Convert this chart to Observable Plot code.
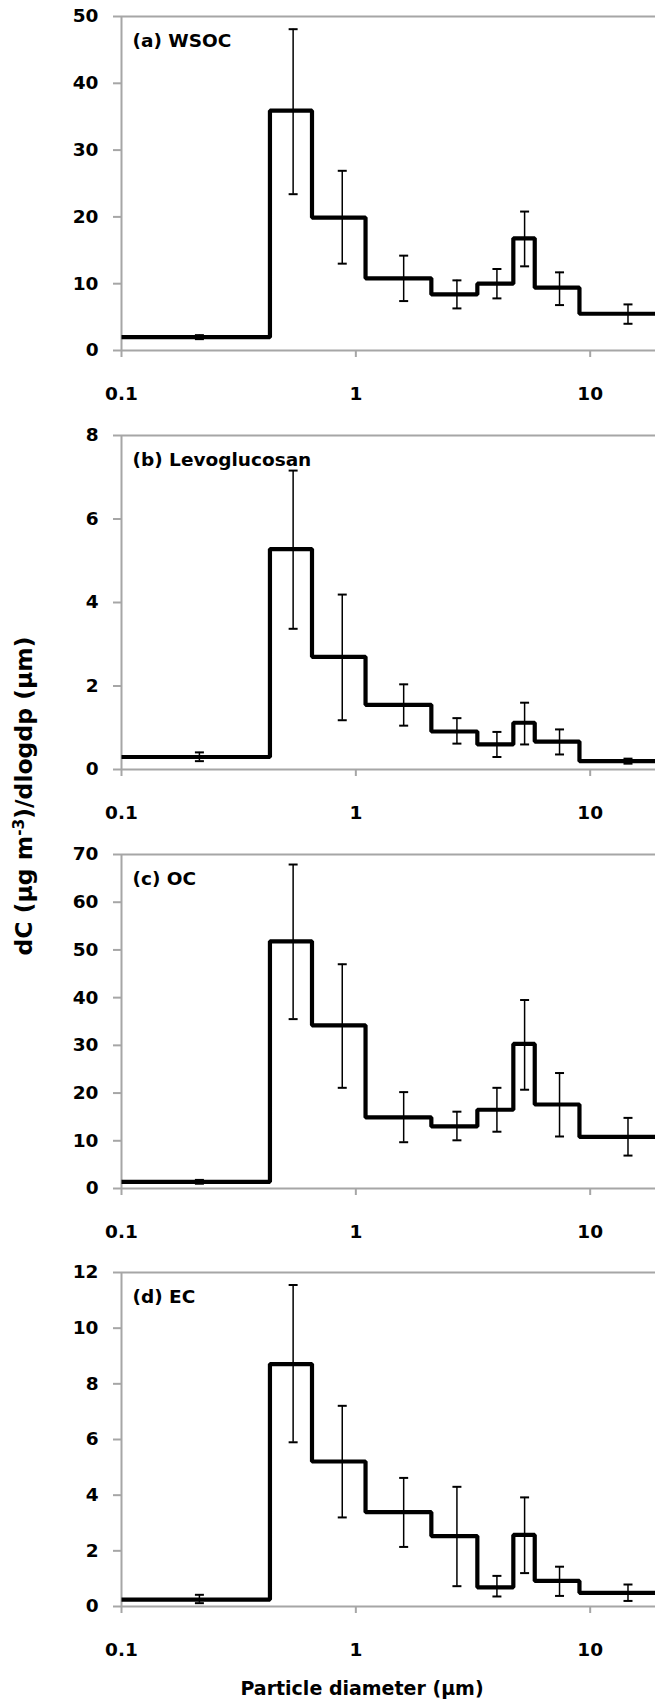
<!DOCTYPE html>
<html>
<head>
<meta charset="utf-8">
<script src="https://cdn.jsdelivr.net/npm/d3@7"></script>
<script src="https://cdn.jsdelivr.net/npm/@observablehq/plot@0.6"></script>
<style>
  body { margin: 0; background: #fff; }
  #fig { position: relative; width: 655px; height: 1701px; overflow: hidden; background: #fff;
         font-family: "DejaVu Sans", sans-serif; font-weight: bold; color: #000; }
  #fig svg { position: absolute; left: 0; }
  .ytitle { position: absolute; left: 25px; top: 796px; white-space: nowrap; font-size: 23.5px;
            transform: translate(-50%, -50%) rotate(-90deg); line-height: 1; }
  .ytitle sup { font-size: 0.65em; vertical-align: 0.55em; line-height: 0; }
  .xtitle { position: absolute; left: 362px; top: 1688px; white-space: nowrap; font-size: 19px;
            transform: translate(-50%, -50%); line-height: 1; }
</style>
</head>
<body>
<div id="fig">
  <div class="ytitle">dC (µg m<sup>-3</sup>)/dlogdp (µm)</div>
  <div class="xtitle">Particle diameter (µm)</div>
</div>
<script>
// Impactor stage boundaries (µm) and the diameter at which each stage's error bar sits
const binEdges = [0.1, 0.43, 0.65, 1.1, 2.1, 3.3, 4.7, 5.8, 9.0, 20];
const binMids  = [0.215, 0.54, 0.875, 1.6, 2.7, 4.0, 5.25, 7.4, 14.5];
const xTicks = [0.1, 1, 10];

// (a) WSOC
const wsoc     = [2.0, 35.9, 19.9, 10.8, 8.4, 10.0, 16.8, 9.4, 5.5];
const wsocLow  = [1.7, 23.4, 13.0, 7.4, 6.3, 7.8, 12.6, 6.8, 4.0];
const wsocHigh = [2.3, 48.1, 26.9, 14.2, 10.5, 12.2, 20.8, 11.7, 6.9];
const wsocTicks = [0, 10, 20, 30, 40, 50];

// (b) Levoglucosan
const levo     = [0.30, 5.28, 2.70, 1.55, 0.91, 0.60, 1.12, 0.67, 0.20];
const levoLow  = [0.20, 3.37, 1.18, 1.05, 0.62, 0.30, 0.60, 0.36, 0.14];
const levoHigh = [0.41, 7.16, 4.19, 2.04, 1.23, 0.90, 1.60, 0.96, 0.26];
const levoTicks = [0, 2, 4, 6, 8];

// (c) OC
const oc     = [1.4, 51.8, 34.2, 14.9, 13.0, 16.5, 30.3, 17.6, 10.8];
const ocLow  = [1.0, 35.5, 21.1, 9.7, 10.1, 11.9, 20.7, 10.9, 6.9];
const ocHigh = [1.8, 67.9, 47.0, 20.2, 16.1, 21.1, 39.5, 24.2, 14.8];
const ocTicks = [0, 10, 20, 30, 40, 50, 60, 70];

// (d) EC
const ec     = [0.25, 8.71, 5.21, 3.39, 2.53, 0.69, 2.57, 0.92, 0.49];
const ecLow  = [0.12, 5.90, 3.20, 2.14, 0.73, 0.36, 1.20, 0.38, 0.20];
const ecHigh = [0.42, 11.55, 7.21, 4.62, 4.30, 1.10, 3.92, 1.43, 0.79];
const ecTicks = [0, 2, 4, 6, 8, 10, 12];

const panels = [
  {label: "(a) WSOC",         values: wsoc, low: wsocLow, high: wsocHigh, ticks: wsocTicks, top: 0},
  {label: "(b) Levoglucosan", values: levo, low: levoLow, high: levoHigh, ticks: levoTicks, top: 419},
  {label: "(c) OC",           values: oc,   low: ocLow,   high: ocHigh,   ticks: ocTicks,   top: 838},
  {label: "(d) EC",           values: ec,   low: ecLow,   high: ecHigh,   ticks: ecTicks,   top: 1256}
];

const axisGrey = "#a6a6a6";

// Short horizontal stroke used as the error-bar cap
const capSymbol = {
  draw(context, size) {
    const r = Math.sqrt(size / Math.PI);
    context.moveTo(-r, 0);
    context.lineTo(r, 0);
  }
};

function panelPlot(p) {
  const yMax = p.ticks[p.ticks.length - 1];
  // step-after outline: each stage value held from its lower edge to the next edge
  const steps = binEdges.map((e, i) => ({x: e, y: p.values[Math.min(i, p.values.length - 1)]}));
  const bars = binMids.map((m, i) => ({x: m, lo: p.low[i], hi: p.high[i]}));
  return Plot.plot({
    width: 655,
    height: 419,
    marginLeft: 121,
    marginRight: 0,
    marginTop: 16,
    marginBottom: 69,
    style: {fontFamily: "'DejaVu Sans', sans-serif", fontSize: "18.5px", fontWeight: "bold",
            color: "#000", background: "transparent", overflow: "visible"},
    x: {type: "log", domain: [0.1, 19]},
    y: {domain: [0, yMax]},
    marks: [
      Plot.ruleY([yMax], {stroke: axisGrey, strokeWidth: 2}),
      Plot.ruleY([0], {stroke: axisGrey, strokeWidth: 2}),
      Plot.ruleX([0.1], {stroke: axisGrey, strokeWidth: 2}),
      Plot.axisY({ticks: p.ticks, tickSize: 8, tickPadding: 15, stroke: axisGrey, strokeWidth: 2,
                  strokeLinecap: "butt", fill: "#000", label: null, tickFormat: d => String(d)}),
      Plot.axisX({ticks: xTicks, tickSize: 7, tickPadding: 29, stroke: axisGrey, strokeWidth: 2,
                  strokeLinecap: "butt", fill: "#000", label: null, tickFormat: d => String(d)}),
      Plot.line(steps, {x: "x", y: "y", curve: "step-after", stroke: "#000", strokeWidth: 4.2,
                        strokeLinejoin: "miter", strokeLinecap: "butt"}),
      Plot.ruleX(bars, {x: "x", y1: "lo", y2: "hi", stroke: "#000", strokeWidth: 1.5}),
      Plot.dot(bars, {x: "x", y: "hi", symbol: capSymbol, r: 4.5, stroke: "#000", strokeWidth: 2, fill: "none"}),
      Plot.dot(bars, {x: "x", y: "lo", symbol: capSymbol, r: 4.5, stroke: "#000", strokeWidth: 2, fill: "none"}),
      Plot.text([p.label], {frameAnchor: "top-left", dx: 11, dy: 17, lineAnchor: "top", textAnchor: "start",
                            fontSize: 18.5, fontWeight: "bold", fill: "#000"})
    ]
  });
}

const fig = document.getElementById("fig");
for (const p of panels) {
  const svg = panelPlot(p);
  svg.style.top = p.top + "px";
  fig.appendChild(svg);
}
</script>
</body>
</html>
